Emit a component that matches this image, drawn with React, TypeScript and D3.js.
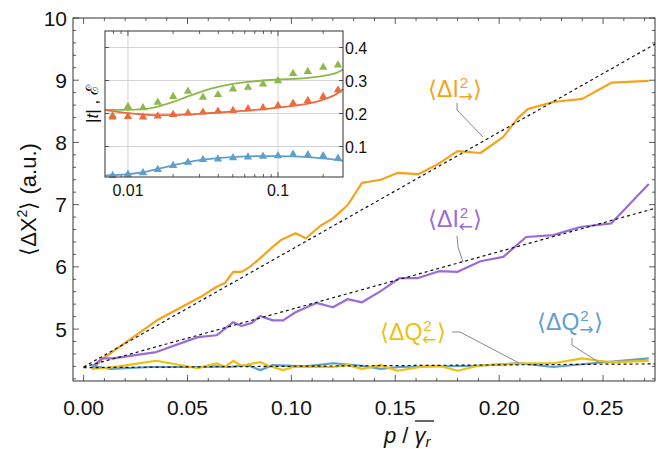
import React from 'react';
import * as d3 from 'd3';

const W = 658, H = 449;

// ---------- main plot data ----------
const iFwdX = [0.0046, 0.0094, 0.0353, 0.056, 0.064, 0.068, 0.072, 0.076, 0.080, 0.085, 0.091, 0.095, 0.102, 0.107, 0.114, 0.120, 0.127, 0.134, 0.143, 0.151, 0.161, 0.170, 0.180, 0.191, 0.202, 0.209, 0.214, 0.226, 0.240, 0.254, 0.272];
const iFwdY = [4.37, 4.53, 5.14, 5.51, 5.68, 5.74, 5.92, 5.92, 6.00, 6.14, 6.32, 6.43, 6.54, 6.46, 6.66, 6.78, 6.99, 7.35, 7.40, 7.51, 7.49, 7.64, 7.86, 7.83, 8.09, 8.39, 8.54, 8.65, 8.70, 8.96, 8.99];

const iBwdX = [0.004, 0.009, 0.014, 0.035, 0.055, 0.064, 0.072, 0.076, 0.081, 0.085, 0.091, 0.096, 0.102, 0.112, 0.120, 0.127, 0.134, 0.143, 0.152, 0.161, 0.171, 0.180, 0.191, 0.202, 0.213, 0.226, 0.239, 0.254, 0.272];
const iBwdY = [4.39, 4.53, 4.53, 4.63, 4.87, 4.90, 5.11, 5.05, 5.10, 5.21, 5.14, 5.14, 5.27, 5.42, 5.35, 5.48, 5.43, 5.61, 5.82, 5.82, 5.93, 5.92, 6.09, 6.16, 6.48, 6.51, 6.64, 6.70, 7.33];

const qBwdX = [0.004, 0.009, 0.017, 0.035, 0.055, 0.064, 0.068, 0.072, 0.076, 0.085, 0.089, 0.096, 0.101, 0.120, 0.127, 0.134, 0.143, 0.151, 0.162, 0.171, 0.180, 0.190, 0.210, 0.226, 0.240, 0.248, 0.254, 0.272];
const qBwdY = [4.36, 4.37, 4.40, 4.49, 4.37, 4.45, 4.39, 4.49, 4.41, 4.47, 4.41, 4.34, 4.39, 4.39, 4.42, 4.36, 4.42, 4.33, 4.39, 4.41, 4.33, 4.41, 4.45, 4.45, 4.53, 4.49, 4.47, 4.49];

const qFwdX = [0.004, 0.013, 0.032, 0.055, 0.064, 0.070, 0.079, 0.085, 0.091, 0.107, 0.120, 0.134, 0.143, 0.152, 0.189, 0.210, 0.226, 0.245, 0.272];
const qFwdY = [4.41, 4.36, 4.39, 4.39, 4.40, 4.39, 4.42, 4.34, 4.42, 4.40, 4.45, 4.41, 4.36, 4.39, 4.41, 4.45, 4.39, 4.45, 4.53];

// linear fits (dashed)
const fitX = [0, 0.275];
const fitIFwd = [4.39, 9.58];
const fitIBwd = [4.39, 6.94];
const fitQ = [4.38, 4.44];

const xTicks = [0, 0.05, 0.1, 0.15, 0.2, 0.25];
const xTickLabels = ['0.00', '0.05', '0.10', '0.15', '0.20', '0.25'];
const yTicks = [5, 6, 7, 8, 9, 10];

// ---------- inset data ----------
const insetX = [0.0079, 0.01, 0.0126, 0.0158, 0.02, 0.0251, 0.0316, 0.0398, 0.0501, 0.0631, 0.0794, 0.1, 0.126, 0.158, 0.2, 0.251];
const greenPts = [0.194, 0.221, 0.217, 0.234, 0.251, 0.267, 0.249, 0.257, 0.274, 0.279, 0.289, 0.299, 0.321, 0.327, 0.340, 0.347];
const redPts = [0.189, 0.191, 0.189, 0.192, 0.197, 0.201, 0.204, 0.207, 0.209, 0.214, 0.217, 0.224, 0.231, 0.239, 0.251, 0.271];
const bluePts = [0.012, 0.016, 0.020, 0.030, 0.042, 0.052, 0.060, 0.062, 0.066, 0.068, 0.070, 0.072, 0.076, 0.075, 0.072, 0.064];

const curveX = [0.00703, 0.0079, 0.01, 0.0126, 0.0158, 0.02, 0.0251, 0.0316, 0.0398, 0.0501, 0.0631, 0.0794, 0.1, 0.126, 0.158, 0.2, 0.251, 0.271];
const greenCurve = [0.211, 0.211, 0.211, 0.213, 0.221, 0.235, 0.252, 0.268, 0.281, 0.290, 0.296, 0.300, 0.303, 0.305, 0.308, 0.314, 0.325, 0.333];
const redCurve = [0.211, 0.207, 0.201, 0.197, 0.195, 0.195, 0.197, 0.200, 0.203, 0.206, 0.209, 0.213, 0.218, 0.223, 0.230, 0.242, 0.262, 0.274];
const blueCurve = [0.012, 0.013, 0.016, 0.022, 0.032, 0.043, 0.053, 0.060, 0.065, 0.068, 0.070, 0.071, 0.071, 0.070, 0.068, 0.064, 0.059, 0.057];

const insetYTicks = [0.1, 0.2, 0.3, 0.4];
const insetXTicks = [0.01, 0.1];
const insetXTickLabels = ['0.01', '0.1'];
const insetXMinor = [0.008, 0.009, 0.02, 0.03, 0.04, 0.05, 0.06, 0.07, 0.08, 0.09, 0.2];

const C = {
  orange: '#F7A21B',
  purple: '#9B6BD8',
  yellow: '#EBC10E',
  blue: '#5E9FCE',
  green: '#8CB94A',
  red: '#EE6A3D',
  frame: '#333',
  grid: '#d4d4d4',
};

const FONT = '"Liberation Sans", Arial, Helvetica, sans-serif';

function Label({ x, y, base, arrow, color, fs }: any) {
  const sfs = fs * 0.66;
  const w2 = 0.556 * sfs;
  return (
    <text x={x} y={y} fill={color} fontSize={fs} fontFamily={FONT}>
      <tspan>⟨Δ{base}</tspan>
      <tspan fontSize={sfs} dx={1} dy={-fs * 0.4}>2</tspan>
      <tspan fontSize={17} fontFamily='"DejaVu Sans", sans-serif' dx={-w2 - 1} dy={fs * 0.4 + 5}>{arrow}</tspan>
      <tspan dx={0} dy={-5}>⟩</tspan>
    </text>
  );
}

export default function App() {
  // main scales
  const x = d3.scaleLinear().domain([-0.0051, 0.275]).range([73, 655]);
  const y = d3.scaleLinear().domain([4.165, 10]).range([381, 18]);
  const line = (xs: number[], ys: number[]) =>
    d3.line<number>().x((_, i) => x(xs[i])).y((d) => y(d))(ys) || '';

  // inset scales
  const ix = d3.scaleLog().domain([0.00703, 0.271]).range([105, 343]);
  const iy = d3.scaleLinear().domain([0.0076, 0.45]).range([177, 31]);
  const iline = (xs: number[], ys: number[]) =>
    d3.line<number>().x((_, i) => ix(xs[i])).y((d) => iy(d)).curve(d3.curveMonotoneX)(ys) || '';
  const tri = d3.symbol().type(d3.symbolTriangle).size(30)() || '';

  const [x0, x1] = x.range();
  const [yb, yt] = y.range();
  const xMinor = d3.range(0, 0.2751, 0.01);
  const yMinor = d3.range(4.2, 10.001, 0.2);

  const [ix0, ix1] = ix.range();
  const [iyb, iyt] = iy.range();

  return (
    <svg width={W} height={H} style={{ position: 'absolute', left: 0, top: 0, background: '#fff' }} fontFamily={FONT}>
      {/* main frame ticks */}
      {xMinor.map((t, i) => {
        const major = Math.abs(Math.round(t * 100) % 5) === 0;
        const L = major ? 6 : 3;
        return (
          <g key={'xm' + i} stroke={C.frame} strokeWidth={0.8}>
            <line x1={x(t)} x2={x(t)} y1={yb} y2={yb - L} />
            <line x1={x(t)} x2={x(t)} y1={yt} y2={yt + L} />
          </g>
        );
      })}
      {yMinor.map((t, i) => {
        const major = Math.abs(t - Math.round(t)) < 1e-6;
        const L = major ? 6 : 3;
        return (
          <g key={'ym' + i} stroke={C.frame} strokeWidth={0.8}>
            <line x1={x0} x2={x0 + L} y1={y(t)} y2={y(t)} />
            <line x1={x1} x2={x1 - L} y1={y(t)} y2={y(t)} />
          </g>
        );
      })}
      <rect x={x0} y={yt} width={x1 - x0} height={yb - yt} fill="none" stroke={C.frame} strokeWidth={1} />

      {/* tick labels */}
      {xTicks.map((t, i) => (
        <text key={'xl' + i} x={x(t)} y={yb + 34} textAnchor="middle" fontSize={21} fill="#111">{xTickLabels[i]}</text>
      ))}
      {yTicks.map((t, i) => (
        <text key={'yl' + i} x={x0 - 6} y={y(t) + 7.5} textAnchor="end" fontSize={21} fill="#111">{t}</text>
      ))}

      {/* axis titles */}
      <text transform={`translate(36,${(yb + yt) / 2}) rotate(-90)`} textAnchor="middle" fontSize={22} fill="#111">
        ⟨ΔX<tspan fontSize={14} dy={-9}>2</tspan><tspan dy={9}>⟩ (a.u.)</tspan>
      </text>
      <text x={384} y={443} fontSize={22} fill="#111">
        <tspan fontStyle="italic">p</tspan>
        <tspan> / </tspan>
        <tspan fontStyle="italic">γ</tspan>
        <tspan fontStyle="italic" fontSize={15} dy={4}>r</tspan>
      </text>
      <line x1={415} x2={434} y1={421} y2={421} stroke="#111" strokeWidth={1.3} />

      {/* data lines */}
      <path d={line(iFwdX, iFwdY)} fill="none" stroke={C.orange} strokeWidth={2.2} strokeLinejoin="round" />
      <path d={line(iBwdX, iBwdY)} fill="none" stroke={C.purple} strokeWidth={2.2} strokeLinejoin="round" />
      <path d={line(qFwdX, qFwdY)} fill="none" stroke={C.blue} strokeWidth={2.2} strokeLinejoin="round" />
      <path d={line(qBwdX, qBwdY)} fill="none" stroke={C.yellow} strokeWidth={2.2} strokeLinejoin="round" />

      {/* fits */}
      {[fitIFwd, fitIBwd, fitQ].map((f, i) => (
        <path key={'fit' + i} d={line(fitX, f)} fill="none" stroke="#111" strokeWidth={1.2} strokeDasharray="3,3" />
      ))}

      {/* leaders */}
      <polyline points="457,103 457,110 483,137" fill="none" stroke="#888" strokeWidth={1} />
      <polyline points="457,236 458,247 463,262" fill="none" stroke="#888" strokeWidth={1} />
      <polyline points="452,332 460,332 519,363" fill="none" stroke="#888" strokeWidth={1} />
      <polyline points="572,338 572,345 600,363" fill="none" stroke="#888" strokeWidth={1} />

      {/* labels */}
      <Label x={428} y={97} base="I" arrow="→" color={C.orange} fs={23} />
      <Label x={428} y={227} base="I" arrow="←" color={C.purple} fs={23} />
      <Label x={380} y={340} base="Q" arrow="←" color={C.yellow} fs={23} />
      <Label x={537} y={330} base="Q" arrow="→" color={C.blue} fs={23} />

      {/* inset */}
      <rect x={ix0} y={iyt} width={ix1 - ix0} height={iyb - iyt} fill="#fff" />
      {insetYTicks.map((t, i) => (
        <line key={'ig' + i} x1={ix0} x2={ix1} y1={iy(t)} y2={iy(t)} stroke={C.grid} strokeWidth={1} />
      ))}
      {insetXTicks.map((t, i) => (
        <line key={'igx' + i} x1={ix(t)} x2={ix(t)} y1={iyt} y2={iyb} stroke={C.grid} strokeWidth={1} />
      ))}
      {insetXMinor.map((t, i) => (
        <g key={'ixm' + i} stroke={C.frame} strokeWidth={0.8}>
          <line x1={ix(t)} x2={ix(t)} y1={iyb} y2={iyb - 3} />
          <line x1={ix(t)} x2={ix(t)} y1={iyt} y2={iyt + 3} />
        </g>
      ))}
      {insetXTicks.map((t, i) => (
        <g key={'ixt' + i}>
          <line x1={ix(t)} x2={ix(t)} y1={iyb} y2={iyb - 5} stroke={C.frame} strokeWidth={0.8} />
          <line x1={ix(t)} x2={ix(t)} y1={iyt} y2={iyt + 5} stroke={C.frame} strokeWidth={0.8} />
          <text x={ix(t)} y={iyb + 19} textAnchor="middle" fontSize={16} fill="#111">{insetXTickLabels[i]}</text>
        </g>
      ))}
      {insetYTicks.map((t, i) => (
        <g key={'iyt' + i}>
          <line x1={ix0} x2={ix0 + 4} y1={iy(t)} y2={iy(t)} stroke={C.frame} strokeWidth={0.8} />
          <line x1={ix1} x2={ix1 - 4} y1={iy(t)} y2={iy(t)} stroke={C.frame} strokeWidth={0.8} />
          <text x={ix1 + 2} y={iy(t) + 6} fontSize={16} fill="#111">{t.toFixed(1)}</text>
        </g>
      ))}

      <path d={iline(curveX, greenCurve)} fill="none" stroke={C.green} strokeWidth={1.8} />
      <path d={iline(curveX, redCurve)} fill="none" stroke={C.red} strokeWidth={1.8} />
      <path d={iline(curveX, blueCurve)} fill="none" stroke={C.blue} strokeWidth={1.8} />
      {[
        [greenPts, C.green],
        [redPts, C.red],
        [bluePts, C.blue],
      ].map(([pts, col]: any, j) =>
        (pts as number[]).map((v, i) => (
          <path key={`tri${j}-${i}`} d={tri} transform={`translate(${ix(insetX[i])},${iy(v)})`} fill={col} />
        ))
      )}
      <rect x={ix0} y={iyt} width={ix1 - ix0} height={iyb - iyt} fill="none" stroke={C.frame} strokeWidth={1} />
      <text transform={`translate(${ix0 - 7},${(iyb + iyt) / 2}) rotate(-90)`} textAnchor="middle" fontSize={17} fill="#111">
        |<tspan fontStyle="italic">t</tspan>| , ℰ
      </text>
    </svg>
  );
}
